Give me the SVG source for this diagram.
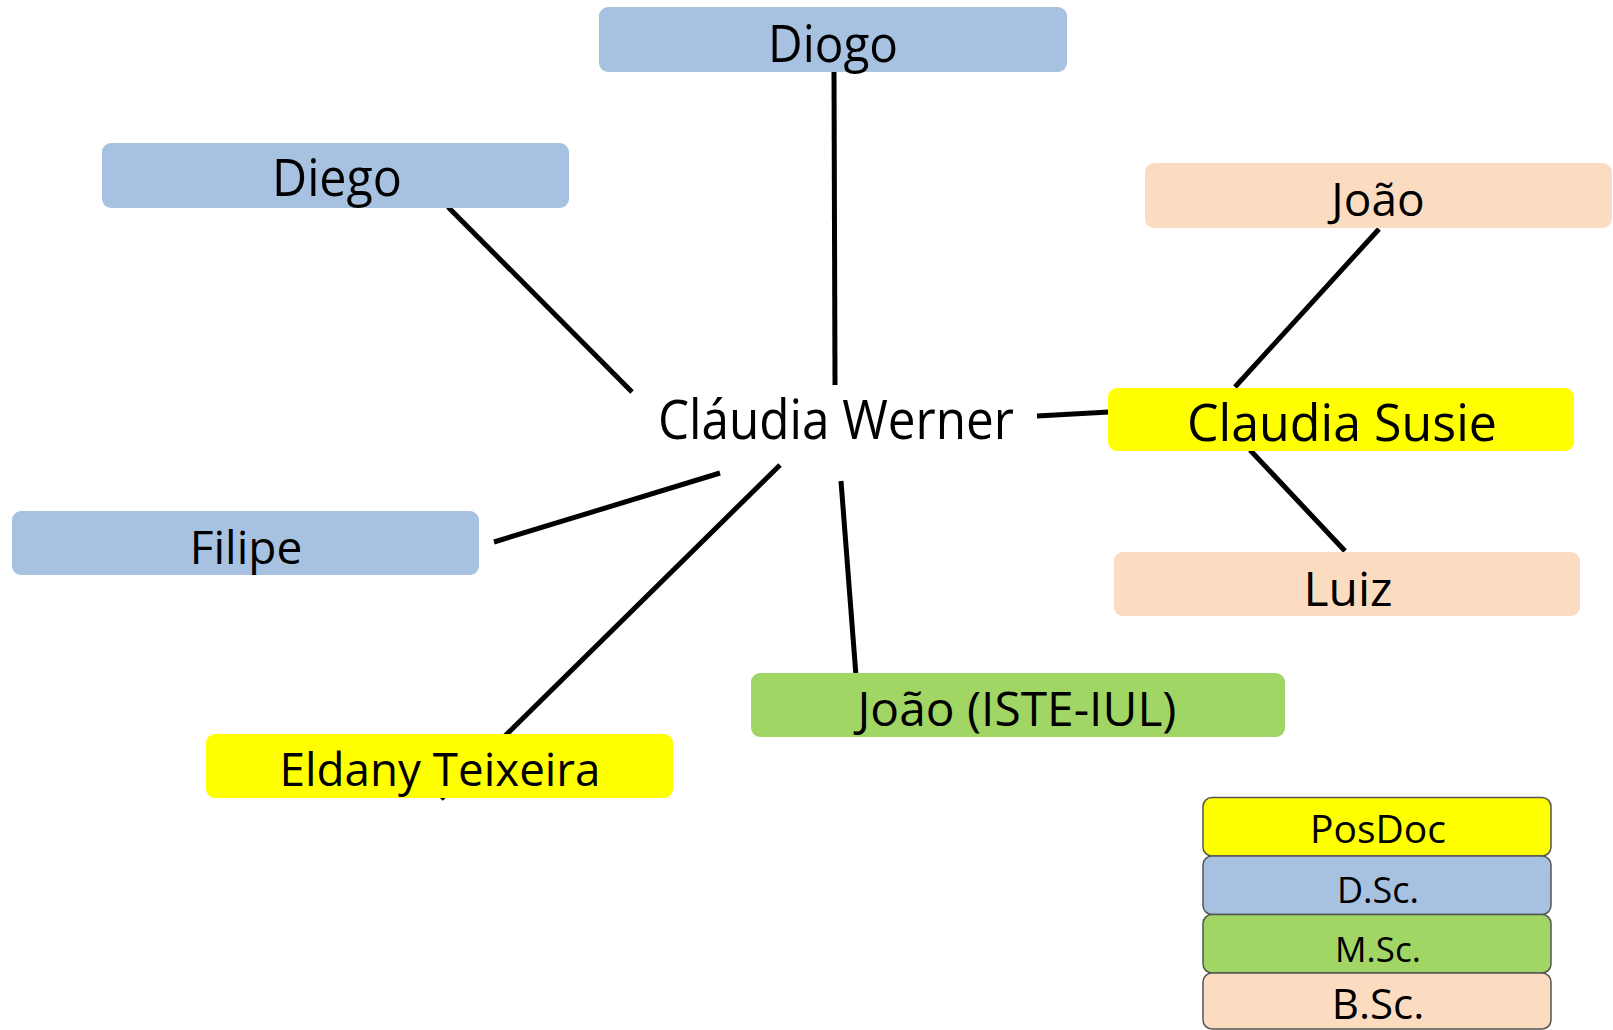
<svg xmlns="http://www.w3.org/2000/svg" width="1613" height="1030" viewBox="0 0 1613 1030">
<style>
text { font-family: "Open Sans", "Noto Sans", "DejaVu Sans", sans-serif; fill: #000; text-anchor: middle; }
.dsc { fill: #A7C2E0; }
.bsc { fill: #FBDCC1; }
.msc { fill: #A1D564; }
.pos { fill: #FFFF00; }
.leg { stroke: #555; stroke-width: 1.5; }
.conn line { stroke: #000; stroke-width: 5; stroke-linecap: butt; }
</style>
<rect width="1613" height="1030" fill="#fff"/>
<g id="connectors" class="conn">
  <line x1="834" y1="72" x2="835" y2="385"/>
  <line x1="448" y1="207" x2="632" y2="392"/>
  <line x1="494" y1="542" x2="720" y2="473"/>
  <line x1="780" y1="465" x2="441" y2="799"/>
  <line x1="841" y1="481" x2="856" y2="676"/>
  <line x1="1037" y1="416" x2="1109" y2="412"/>
  <line x1="1379" y1="229" x2="1235" y2="387"/>
  <line x1="1250" y1="450" x2="1345" y2="551"/>
</g>
<g id="node-diogo">
  <rect class="dsc" x="599" y="7" width="468" height="65" rx="9"/>
  <text x="833" y="62" font-size="52" textLength="130" lengthAdjust="spacingAndGlyphs">Diogo</text>
</g>
<g id="node-diego">
  <rect class="dsc" x="102" y="143" width="467" height="65" rx="9"/>
  <text x="337" y="196" font-size="51" textLength="130" lengthAdjust="spacingAndGlyphs">Diego</text>
</g>
<g id="node-joao-bsc">
  <rect class="bsc" x="1145" y="163" width="467" height="65" rx="9"/>
  <text x="1378" y="216" font-size="46">João</text>
</g>
<g id="node-claudia-susie">
  <rect class="pos" x="1108" y="388" width="466" height="63" rx="9"/>
  <text x="1342" y="441" font-size="52" textLength="310" lengthAdjust="spacingAndGlyphs">Claudia Susie</text>
</g>
<g id="node-luiz">
  <rect class="bsc" x="1114" y="552" width="466" height="64" rx="9"/>
  <text x="1348" y="606" font-size="48">Luiz</text>
</g>
<g id="node-filipe">
  <rect class="dsc" x="12" y="511" width="467" height="64" rx="9"/>
  <text x="246" y="564" font-size="46">Filipe</text>
</g>
<g id="node-eldany">
  <rect class="pos" x="206" y="734" width="467" height="64" rx="9"/>
  <text x="440" y="786" font-size="45" textLength="321" lengthAdjust="spacingAndGlyphs">Eldany Teixeira</text>
</g>
<g id="node-joao-iste">
  <rect class="msc" x="751" y="673" width="534" height="64" rx="9"/>
  <text x="1017" y="726" font-size="47" textLength="319" lengthAdjust="spacingAndGlyphs">João (ISTE-IUL)</text>
</g>
<g id="node-claudia-werner">
  <text x="836" y="439" font-size="54" textLength="356" lengthAdjust="spacingAndGlyphs">Cláudia Werner</text>
</g>
<g id="legend">
  <g id="legend-posdoc">
    <rect class="pos leg" x="1203" y="797.5" width="348" height="58.5" rx="9"/>
    <text x="1378" y="843" font-size="39">PosDoc</text>
  </g>
  <g id="legend-dsc">
    <rect class="dsc leg" x="1203" y="856" width="348" height="58.5" rx="9"/>
    <text x="1378" y="903" font-size="36">D.Sc.</text>
  </g>
  <g id="legend-msc">
    <rect class="msc leg" x="1203" y="914.5" width="348" height="58.5" rx="9"/>
    <text x="1378" y="962" font-size="35">M.Sc.</text>
  </g>
  <g id="legend-bsc">
    <rect class="bsc leg" x="1203" y="973" width="348" height="56" rx="9"/>
    <text x="1378" y="1019" font-size="42">B.Sc.</text>
  </g>
</g>
</svg>
